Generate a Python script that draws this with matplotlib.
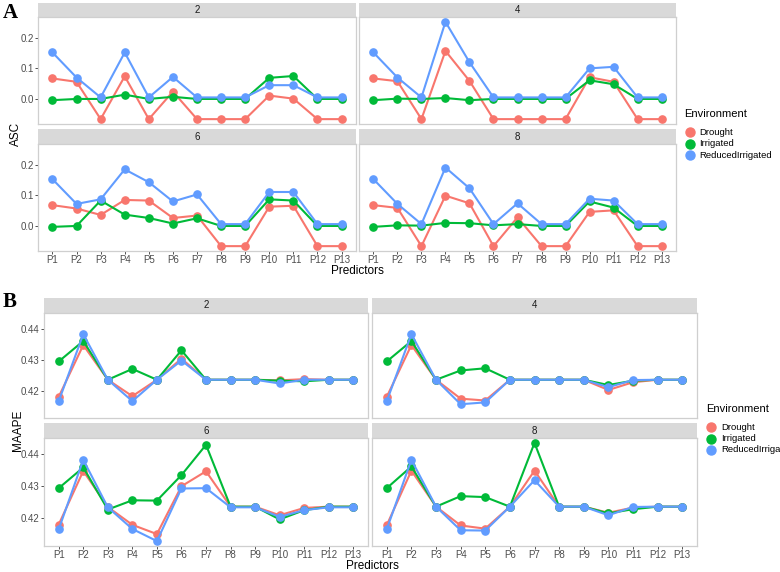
import matplotlib
matplotlib.use("Agg")
import matplotlib.pyplot as plt
from matplotlib.lines import Line2D
import numpy as np

plt.rcParams['font.family'] = ['Liberation Sans', 'DejaVu Sans']

predictors = ["P%d" % i for i in range(1, 14)]
environments = ["Drought", "Irrigated", "ReducedIrrigated"]
env_colors = ["#F8766D", "#00BA38", "#619CFF"]
facets = ["2", "4", "6", "8"]

# ---- Panel A: ASC ----
asc_2_drought = [0.067, 0.056, -0.066, 0.074, -0.066, 0.024, -0.066, -0.066, -0.066, 0.011, 0.001, -0.066, -0.066]
asc_2_irrigated = [-0.004, 0.000, 0.000, 0.014, 0.000, 0.007, 0.000, 0.000, 0.000, 0.069, 0.075, 0.000, 0.000]
asc_2_reduced = [0.152, 0.070, 0.005, 0.152, 0.005, 0.072, 0.005, 0.005, 0.005, 0.045, 0.045, 0.005, 0.005]

asc_4_drought = [0.067, 0.058, -0.066, 0.157, 0.059, -0.066, -0.066, -0.066, -0.066, 0.071, 0.056, -0.066, -0.066]
asc_4_irrigated = [-0.004, 0.001, 0.000, 0.003, -0.004, 0.000, 0.000, 0.000, 0.000, 0.061, 0.048, 0.000, 0.000]
asc_4_reduced = [0.152, 0.070, 0.005, 0.252, 0.120, 0.005, 0.005, 0.005, 0.005, 0.100, 0.105, 0.005, 0.005]

asc_6_drought = [0.068, 0.057, 0.036, 0.085, 0.083, 0.026, 0.034, -0.066, -0.066, 0.063, 0.066, -0.066, -0.066]
asc_6_irrigated = [-0.003, 0.000, 0.083, 0.037, 0.026, 0.008, 0.025, 0.000, 0.000, 0.087, 0.083, 0.000, 0.000]
asc_6_reduced = [0.153, 0.072, 0.087, 0.185, 0.143, 0.080, 0.103, 0.006, 0.006, 0.111, 0.111, 0.006, 0.006]

asc_8_drought = [0.068, 0.059, -0.066, 0.099, 0.074, -0.066, 0.028, -0.066, -0.066, 0.046, 0.051, -0.066, -0.066]
asc_8_irrigated = [-0.003, 0.002, 0.001, 0.010, 0.009, 0.002, 0.006, 0.000, 0.000, 0.080, 0.060, 0.000, 0.000]
asc_8_reduced = [0.153, 0.072, 0.006, 0.191, 0.123, 0.006, 0.074, 0.006, 0.006, 0.089, 0.083, 0.006, 0.006]

# ---- Panel B: MAAPE ----
maape_2_drought = [0.4180, 0.4347, 0.4235, 0.4182, 0.4235, 0.4303, 0.4235, 0.4235, 0.4235, 0.4233, 0.4237, 0.4235, 0.4235]
maape_2_irrigated = [0.4294, 0.4360, 0.4235, 0.4270, 0.4235, 0.4330, 0.4235, 0.4235, 0.4235, 0.4232, 0.4230, 0.4235, 0.4235]
maape_2_reduced = [0.4166, 0.4382, 0.4235, 0.4166, 0.4235, 0.4297, 0.4235, 0.4235, 0.4235, 0.4223, 0.4235, 0.4235, 0.4235]

maape_4_drought = [0.4180, 0.4347, 0.4235, 0.4174, 0.4168, 0.4235, 0.4235, 0.4235, 0.4235, 0.4202, 0.4227, 0.4235, 0.4235]
maape_4_irrigated = [0.4294, 0.4360, 0.4235, 0.4265, 0.4272, 0.4235, 0.4235, 0.4235, 0.4235, 0.4218, 0.4232, 0.4235, 0.4235]
maape_4_reduced = [0.4166, 0.4382, 0.4235, 0.4156, 0.4162, 0.4235, 0.4235, 0.4235, 0.4235, 0.4211, 0.4234, 0.4235, 0.4235]

maape_6_drought = [0.4179, 0.4347, 0.4234, 0.4178, 0.4149, 0.4299, 0.4346, 0.4235, 0.4235, 0.4208, 0.4231, 0.4235, 0.4235]
maape_6_irrigated = [0.4293, 0.4358, 0.4226, 0.4255, 0.4254, 0.4334, 0.4429, 0.4235, 0.4235, 0.4195, 0.4224, 0.4235, 0.4235]
maape_6_reduced = [0.4164, 0.4382, 0.4233, 0.4165, 0.4127, 0.4292, 0.4293, 0.4233, 0.4233, 0.4203, 0.4224, 0.4233, 0.4233]

maape_8_drought = [0.4177, 0.4348, 0.4235, 0.4176, 0.4166, 0.4235, 0.4348, 0.4235, 0.4235, 0.4216, 0.4232, 0.4235, 0.4235]
maape_8_irrigated = [0.4293, 0.4361, 0.4235, 0.4268, 0.4265, 0.4235, 0.4435, 0.4235, 0.4235, 0.4214, 0.4227, 0.4235, 0.4235]
maape_8_reduced = [0.4164, 0.4382, 0.4235, 0.4161, 0.4160, 0.4235, 0.4318, 0.4235, 0.4235, 0.4208, 0.4234, 0.4235, 0.4235]

asc_data = {
    "2": [asc_2_drought, asc_2_irrigated, asc_2_reduced],
    "4": [asc_4_drought, asc_4_irrigated, asc_4_reduced],
    "6": [asc_6_drought, asc_6_irrigated, asc_6_reduced],
    "8": [asc_8_drought, asc_8_irrigated, asc_8_reduced],
}
maape_data = {
    "2": [maape_2_drought, maape_2_irrigated, maape_2_reduced],
    "4": [maape_4_drought, maape_4_irrigated, maape_4_reduced],
    "6": [maape_6_drought, maape_6_irrigated, maape_6_reduced],
    "8": [maape_8_drought, maape_8_irrigated, maape_8_reduced],
}
asc_ticks = [0.0, 0.1, 0.2]
asc_ticklabels = ["0.0", "0.1", "0.2"]
maape_ticks = [0.42, 0.43, 0.44]
maape_ticklabels = ["0.42", "0.43", "0.44"]

W, H = 780, 572
fig = plt.figure(figsize=(W / 100, H / 100), dpi=100)


def box(x0, y0, x1, y1):
    return [x0 / W, 1 - y1 / H, (x1 - x0) / W, (y1 - y0) / H]


def fx(x):
    return x / W


def fy(y):
    return 1 - y / H


def draw_block(data, panels, strips, ticks, ticklabels):
    allv = np.concatenate([np.array(s) for f in facets for s in data[f]])
    lo, hi = allv.min(), allv.max()
    pad = 0.05 * (hi - lo)
    xs = np.arange(len(predictors))
    for i, f in enumerate(facets):
        px0, py0, px1, py1 = panels[i]
        sy0, sy1 = strips[i]
        # strip
        sax = fig.add_axes(box(px0, sy0, px1, sy1))
        sax.set_facecolor("#D9D9D9")
        sax.set_xticks([]); sax.set_yticks([])
        for sp in sax.spines.values():
            sp.set_visible(False)
        sax.text(0.5, 0.5, f, ha="center", va="center", fontsize=7, color="#1A1A1A",
                 transform=sax.transAxes)
        ax = fig.add_axes(box(px0, py0, px1, py1))
        for s, col in zip(data[f], env_colors):
            ax.plot(xs, s, color=col, lw=1.5, marker="o", ms=5.2, mec=col, mfc=col, zorder=3)
        ax.set_xlim(-0.6, len(predictors) - 1 + 0.6)
        ax.set_ylim(lo - pad, hi + pad)
        for sp in ax.spines.values():
            sp.set_color("#CFCFCF")
            sp.set_linewidth(0.9)
        ax.tick_params(length=2, width=0.6, color="#333333", labelsize=7,
                       labelcolor="#4D4D4D", pad=1)
        ax.set_yticks(ticks)
        if i % 2 == 0:
            ax.set_yticklabels(ticklabels)
        else:
            ax.set_yticklabels([])
            ax.tick_params(axis="y", length=0)
        ax.set_xticks(xs)
        if i >= 2:
            ax.set_xticklabels(predictors)
        else:
            ax.set_xticklabels([])
            ax.tick_params(axis="x", length=0)


# Panel A
draw_block(asc_data,
           [(38, 17, 356, 124), (359, 17, 676, 124), (38, 144, 356, 251), (359, 144, 676, 251)],
           [(3, 17), (3, 17), (129, 144), (129, 144)],
           asc_ticks, asc_ticklabels)
# Panel B
draw_block(maape_data,
           [(44, 313, 368, 418), (372, 313, 697, 418), (44, 438, 368, 546), (372, 438, 697, 546)],
           [(298, 313), (298, 313), (423, 438), (423, 438)],
           maape_ticks, maape_ticklabels)

# Axis titles
fig.text(fx(16), fy(134), "ASC", rotation=90, ha="center", va="center", fontsize=8.5, color="black")
fig.text(fx(357), fy(271), "Predictors", ha="center", va="center", fontsize=8.5, color="black")
fig.text(fx(18), fy(430), "MAAPE", rotation=90, ha="center", va="center", fontsize=8.5, color="black")
fig.text(fx(372), fy(566), "Predictors", ha="center", va="center", fontsize=8.5, color="black")

# Panel letters
fig.text(fx(3), fy(13), "A", ha="left", va="center", fontsize=15, fontweight="bold",
         family="Liberation Serif")
fig.text(fx(3), fy(302), "B", ha="left", va="center", fontsize=15, fontweight="bold",
         family="Liberation Serif")


def legend(tx, ty, mx, txx, ys):
    fig.text(fx(tx), fy(ty), "Environment", ha="left", va="center", fontsize=8, color="black")
    for env, col, y in zip(environments, env_colors, ys):
        fig.add_artist(Line2D([fx(mx)], [fy(y)], marker="o", ms=6.5, color=col, mec=col,
                              mfc=col, lw=0, transform=fig.transFigure))
        fig.text(fx(txx), fy(y), env, ha="left", va="center", fontsize=6.8, color="black")


legend(684, 114, 690, 699, [132, 143.5, 155])
legend(706, 409, 711, 721, [427, 438.5, 450])

fig.savefig("out.png", dpi=100)
